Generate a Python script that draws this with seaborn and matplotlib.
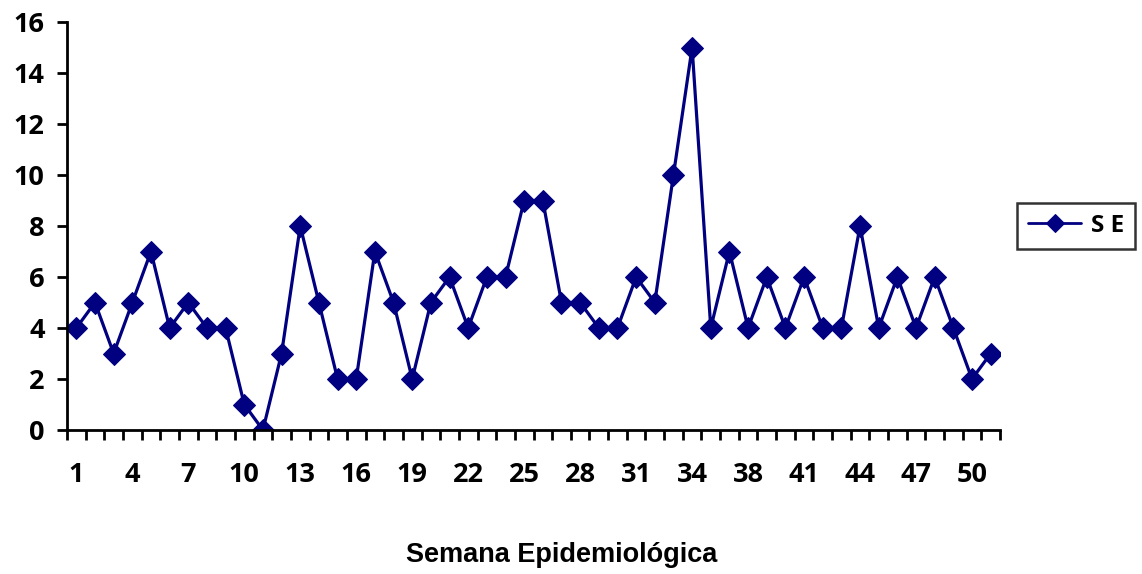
import numpy as np
import pandas as pd
import matplotlib
matplotlib.use("Agg")
import matplotlib.pyplot as plt
import seaborn as sns
from matplotlib.ticker import FixedLocator

weeks = list(range(1, 35)) + list(range(36, 52))
cases = [4, 5, 3, 5, 7, 4, 5, 4, 4, 1,
         0, 3, 8, 5, 2, 2, 7, 5, 2, 5,
         6, 4, 6, 6, 9, 9, 5, 5, 4, 4,
         6, 5, 10, 15, 4, 7, 4, 6, 4, 6,
         4, 4, 8, 4, 6, 4, 6, 4, 2, 3]
series_name = "S E"
xlabel = "Semana Epidemiológica"

sns.set_theme(style="white")
plt.rcParams['font.family'] = ['Open Sans', 'DejaVu Sans']
plt.rcParams.update({"text.color": "black", "axes.labelcolor": "black",
                     "xtick.color": "black", "ytick.color": "black"})
TICKFONT = {"family": ["Open Sans", "DejaVu Sans"], "weight": "bold", "size": 19.5}

df = pd.DataFrame({"week": [str(w) for w in weeks], "cases": cases, "serie": series_name})

fig = plt.figure(figsize=(11.42, 5.74), dpi=100)
ax = fig.add_axes([67/1142, 1-430/574, (1000-67)/1142, (430-22)/574])

navy = "#000080"
sns.lineplot(data=df, x="week", y="cases", hue="serie", palette=[navy], sort=False,
             marker="D", markersize=11, markeredgecolor=navy, linewidth=2.3, ax=ax)

n = len(weeks)
ax.set_xlim(-0.5, n - 0.5)
ax.set_ylim(0, 16)
ax.set_yticks(np.arange(0, 17, 2))
ax.set_yticklabels([str(v) for v in range(0, 17, 2)], fontdict=TICKFONT)

# major ticks at category boundaries, labels on every third category
ax.xaxis.set_major_locator(FixedLocator(np.arange(-0.5, n, 1.0)))
ax.set_xticklabels([""] * (n + 1))
lab_pos = list(range(0, n, 3))
ax.xaxis.set_minor_locator(FixedLocator(lab_pos))
ax.set_xticklabels([str(weeks[i]) for i in lab_pos], minor=True, fontdict=TICKFONT)
ax.tick_params(axis="x", which="major", direction="out", length=7, width=2, color="black", bottom=True)
ax.tick_params(axis="x", which="minor", length=0, pad=23, bottom=True)
ax.tick_params(axis="y", which="major", direction="out", length=7, width=2, color="black", left=True, pad=9)

for s in ["top", "right"]:
    ax.spines[s].set_visible(False)
for s in ["left", "bottom"]:
    ax.spines[s].set_color("black")
    ax.spines[s].set_linewidth(2)

ax.set_ylabel("")
ax.set_xlabel(xlabel, fontsize=19.5, fontweight="bold", family=["Liberation Sans", "DejaVu Sans"])
ax.xaxis.set_label_coords((562 - 67) / 933, -(555 - 430) / 408, transform=ax.transAxes)
ax.xaxis.label.set_verticalalignment("center")

handles, labels = ax.get_legend_handles_labels()
leg = ax.legend(handles, labels, loc="center left", bbox_to_anchor=(1017/1142, 1-226/574),
                bbox_transform=fig.transFigure, frameon=True, fancybox=False, edgecolor="black",
                prop={"family": ["Open Sans", "DejaVu Sans"], "weight": "bold", "size": 17.5},
                handlelength=2.2, borderpad=0.45, handletextpad=0.4, borderaxespad=0)
leg.get_frame().set_linewidth(1.8)
for t in leg.get_texts():
    t.set_color("black")
for h in leg.legend_handles:
    h.set_markersize(9)
    h.set_linewidth(2)

fig.savefig("out.png", dpi=100)
